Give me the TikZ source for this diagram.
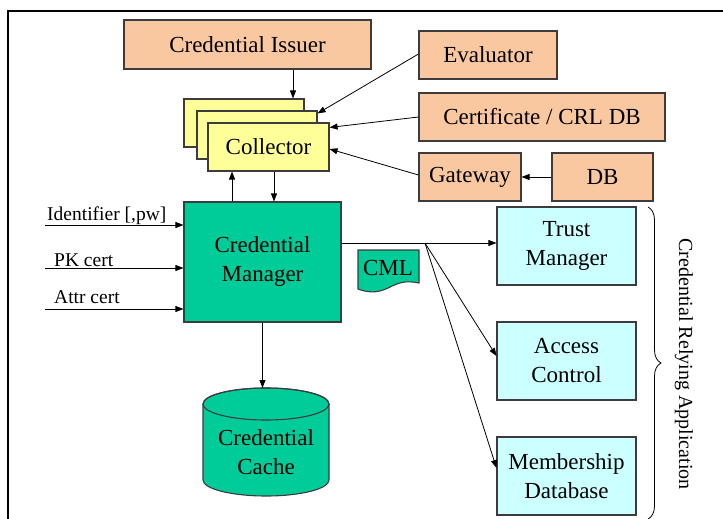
\documentclass[tikz,border=0pt]{standalone}
\usepackage{fontspec}
\setmainfont{Liberation Serif}
\newfontfamily\diagfont{Liberation Serif}
\usepackage{color}
\usepackage{tikz}
\usetikzlibrary{arrows.meta,decorations.pathreplacing}
\definecolor{peach}{RGB}{250,200,160}
\definecolor{paleyellow}{RGB}{255,255,153}
\definecolor{seagreen}{RGB}{0,204,153}
\definecolor{palecyan}{RGB}{204,255,255}
\definecolor{edgegrey}{RGB}{60,60,60}

\begin{document}
\begin{tikzpicture}[x=1pt,y=-1pt,
  box/.style={draw=edgegrey,line width=1.1pt,inner sep=0pt,align=center,font=\diagfont\fontsize{23}{29}\selectfont},
  srcbox/.style={box,fill=peach,minimum height=48pt},
  collbox/.style={box,fill=paleyellow,minimum width=120pt,minimum height=48pt},
  appbox/.style={box,fill=palecyan,minimum width=139pt,minimum height=78pt},
  lbl/.style={inner sep=0pt,font=\diagfont\fontsize{19.5}{22}\selectfont},
  arr/.style={-{Triangle[length=8pt,width=6pt]},line width=0.8pt}]
\useasboundingbox (0,0) rectangle (723,519);
\draw [line width=2pt] (8,520) -- (8,11) -- (724,11);

\node [srcbox,minimum width=247pt,minimum height=49pt] (issuer) at (247.5,44.5) {Credential Issuer};
\node [srcbox,minimum width=138pt] (eval) at (488,55) {Evaluator};
\node [srcbox,minimum width=246pt] (crl) at (542,117) {Certificate / CRL DB};
\node [srcbox,minimum width=102pt] (gw) at (470,177) {Gateway};
\node [srcbox,minimum width=101pt] (db) at (602.5,177) {DB};

\node [collbox] (coll3) at (244,123) {};
\node [collbox] (coll2) at (257,135) {};
\node [collbox,minimum width=121pt] (coll) at (268.5,147) {Collector};

\node [box,fill=seagreen,minimum width=157pt,minimum height=120pt] (cm) at (262.5,262) {Credential\\Manager};

\filldraw [draw=edgegrey,fill=seagreen,line width=1.1pt] (203,404) -- (203,480) arc [start angle=180,end angle=360,x radius=63pt,y radius=16pt] -- (329,404) arc [start angle=0,end angle=180,x radius=63pt,y radius=16pt] -- cycle;
\draw [draw=edgegrey,line width=1.1pt] (266,404) ellipse [x radius=63pt,y radius=16pt];
\coordinate (cachetop) at (266,388);
\node [box,draw=none] (cache) at (266,452) {Credential\\Cache};

\filldraw [draw=edgegrey,fill=seagreen,line width=1.1pt] (358,250) -- (419,250) -- (419,283) .. controls (405,280) and (398,283) .. (388,288) .. controls (376,294) and (366,292) .. (358,289) -- cycle;
\node [box,draw=none] (cml) at (388,268) {CML};

\node [appbox] (tm) at (566.5,246) {Trust\\Manager};
\node [appbox] (ac) at (566.5,361) {Access\\Control};
\node [appbox] (mdb) at (566.5,476) {Membership\\Database};

\draw [arr] ([xshift=45.5pt]issuer.south) -- ([xshift=45.5pt]issuer.south |- coll3.north);
\draw [arr] ([yshift=1pt]eval.west) -- ([yshift=-3pt]coll2.north east);
\draw [arr] (crl.west) -- ([yshift=-5pt]coll.north east);
\draw [arr] ([yshift=2pt]gw.west) -- ([yshift=-2pt]coll.east);
\draw [arr] (db.west) -- (gw.east);

\draw [arr] ([xshift=-30.5pt]cm.north) -- ([xshift=-30.5pt]cm.north |- coll.south);
\draw [arr] ([xshift=5.5pt]coll.south) -- ([xshift=5.5pt]coll.south |- cm.north);

\coordinate (in1) at (45,225);
\coordinate (in2) at (45,268);
\coordinate (in3) at (45,309);
\draw [arr] (in1) -- (in1 -| cm.west);
\draw [arr] (in2) -- (in2 -| cm.west);
\draw [arr] (in3) -- (in3 -| cm.west);
\node [lbl,anchor=base west] (idlbl) at ([xshift=2pt,yshift=5pt]in1) {Identifier [,pw]};
\node [lbl,anchor=base west] (pklbl) at ([xshift=9pt,yshift=1.5pt]in2) {PK cert};
\node [lbl,anchor=base west] (attrlbl) at ([xshift=9pt,yshift=6pt]in3) {Attr cert};

\draw [arr] (cm.south) -- (cm.south |- cachetop);

\coordinate (split) at (425,243);
\draw [line width=0.8pt] (split -| cm.east) -- (split);
\draw [arr] (split) -- (split -| tm.west);
\draw [arr] (split) -- ([yshift=5pt]ac.west);
\draw [arr] (split) -- ([yshift=8pt]mdb.west);

\draw [decorate,decoration={brace,amplitude=13pt},line width=0.8pt] (648,207) -- (648,519);
\node [lbl,font=\diagfont\fontsize{20}{22}\selectfont,rotate=-90] (cra) at (684,364) {Credential Relying Application};
\end{tikzpicture}
\end{document}
